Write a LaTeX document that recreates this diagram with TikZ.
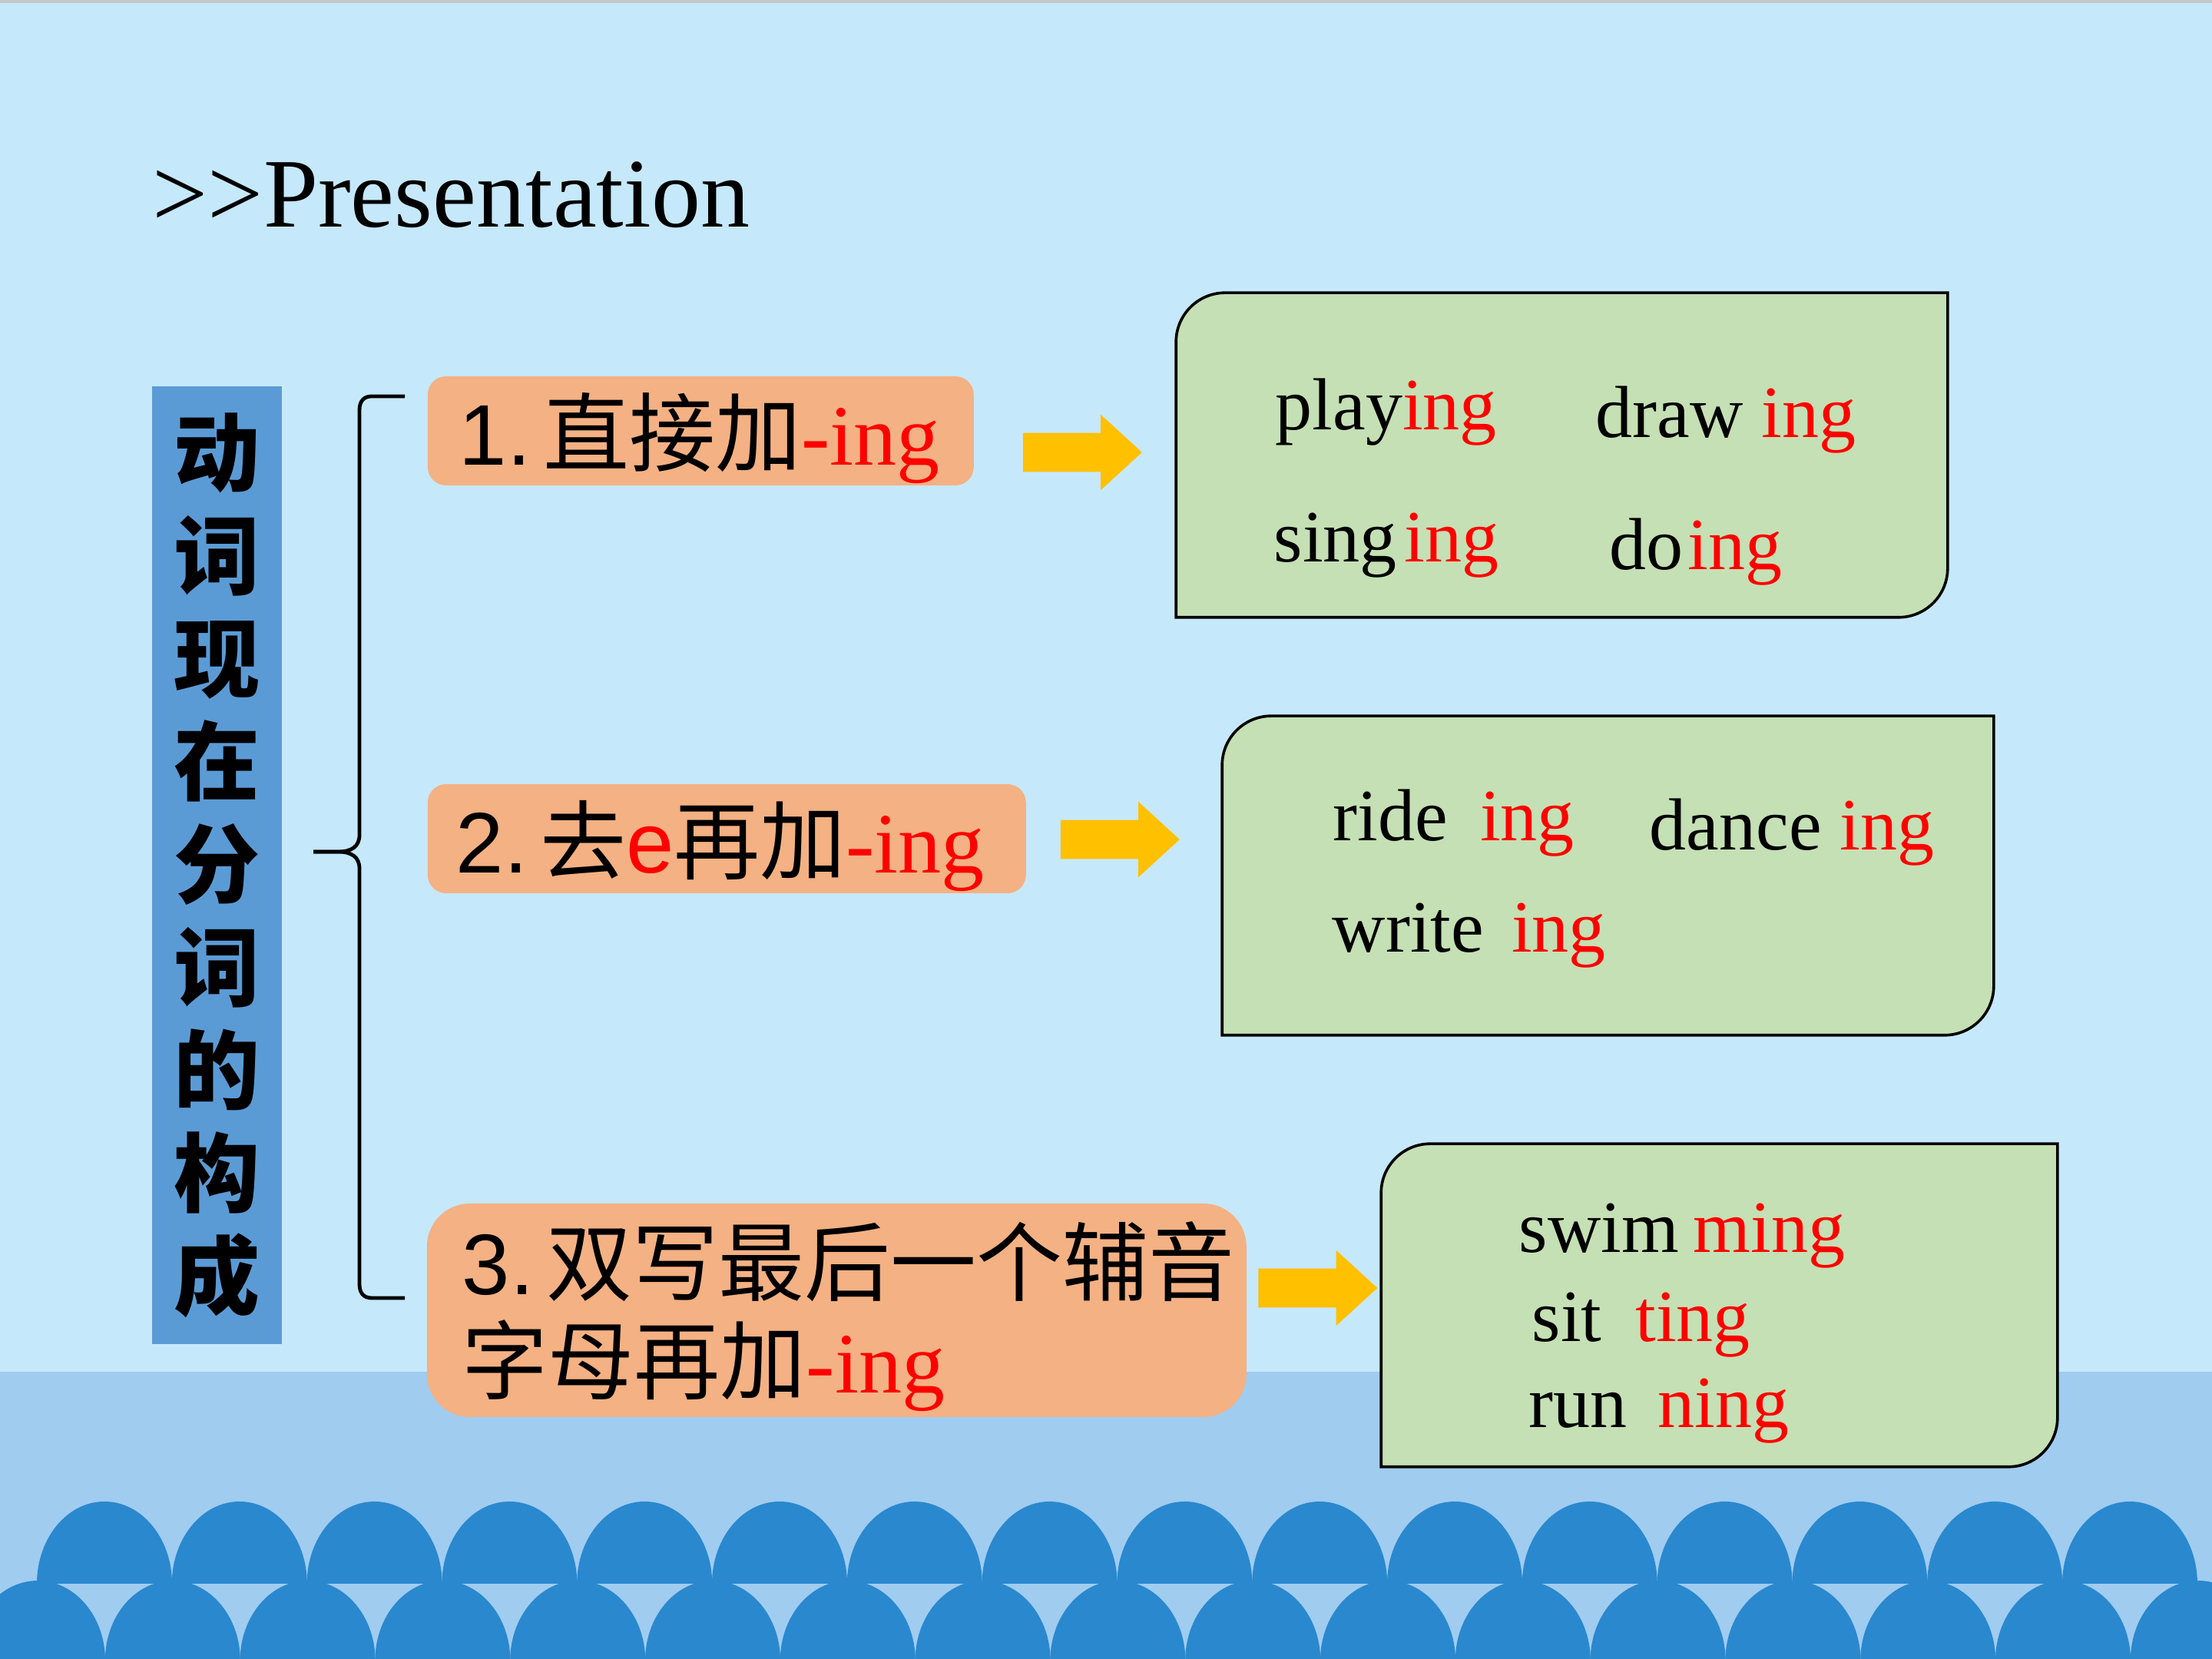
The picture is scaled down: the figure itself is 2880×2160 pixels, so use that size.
\documentclass[tikz,border=0pt]{standalone}
\usepackage{fontspec}
\setmainfont{Liberation Serif}
\newfontfamily\cjk{Noto Sans CJK SC}
\newfontfamily\arial{Liberation Sans}
\usepackage{xcolor}
\usetikzlibrary{shapes.arrows}
\definecolor{sky}{RGB}{198,232,251}
\definecolor{sea}{RGB}{160,204,240}
\definecolor{wavefill}{RGB}{42,136,206}
\definecolor{rulefill}{RGB}{244,177,131}
\definecolor{leaffill}{RGB}{197,224,180}
\definecolor{barfill}{RGB}{91,155,213}
\definecolor{arrowfill}{RGB}{255,192,0}
\newcommand{\ing}[1]{{\rmfamily\color{red}#1}}
\newcommand{\num}[1]{{\arial #1.}\kern4pt}
\tikzset{
    title/.style={anchor=base west, inner sep=0pt, font=\fontsize{32}{38}\selectfont}, % titolo della pagina
    stembar/.style={fill=barfill, inner sep=0pt, minimum width=42.25pt, minimum height=311.75pt,
        align=center, font=\cjk\bfseries\fontsize{28}{33.5}\selectfont},
    brace/.style={draw=black, line width=1.2pt},
    rulebox/.style={fill=rulefill, anchor=base west, inner ysep=0pt, align=left,
        font=\cjk\fontsize{28}{32}\selectfont}, % le tre regole
    leafbox/.style={rectangle, inner sep=0pt}, % riquadro verde (solo posizione)
    leafline/.style={draw=black, line width=0.9pt, fill=leaffill},
    word/.style={anchor=base west, inner sep=0pt, font=\fontsize{24}{28}\selectfont},
    goarrow/.style={single arrow, fill=arrowfill, draw=none, inner xsep=0pt, inner ysep=6.125pt,
        minimum height=38.75pt, single arrow head extend=6pt, single arrow tip angle=85},
    wave/.style={fill=wavefill},
}

\begin{document}
\begin{tikzpicture}[x=0.25pt, y=0.25pt]
    % Sfondo
    \useasboundingbox (0,0) rectangle (2880,2160);
    \fill[sky] (0,0) rectangle (2880,2160);
    \fill[gray!45] (0,2156) rectangle (2880,2160);
    \fill[sea] (0,0) rectangle (2880,374);
    \foreach \i in {0,...,15}
        \fill[wave] ({48+175.8*\i},98) arc[start angle=180, end angle=0, x radius=22pt, y radius=26.75pt];
    \foreach \i in {0,...,16}
        \fill[wave] ({-39+175.8*\i},-2) arc[start angle=180, end angle=0, x radius=22pt, y radius=26pt];

    % Titolo e barra
    \node[title] (title) at (198,1864) {>\kern0pt>Presentation};
    \node[stembar] (bar) at (282.5,1033.5) {动\\词\\现\\在\\分\\词\\的\\构\\成};

    % Graffa
    \draw[brace] (527,1644) -- (484,1644) .. controls (474,1644) and (468,1638) .. (468,1626)
        -- (468,1073) .. controls (468,1058) and (458,1051) .. (440,1051) -- (408,1051);
    \draw[brace] (408,1051) -- (440,1051) .. controls (458,1051) and (468,1044) .. (468,1029)
        -- (468,488) .. controls (468,476) and (474,470) .. (484,470) -- (527,470);

    % Regole
    \node[rulebox, rounded corners=6pt, inner xsep=10.25pt, text width=157.25pt,
        text height=29pt, text depth=6.5pt] (r1) at (556,1554)
        {\num{1}直接加\ing{-ing}};
    \node[rulebox, rounded corners=6pt, inner xsep=9.25pt, text width=176.25pt,
        text height=29pt, text depth=6.5pt] (r2) at (556,1023)
        {\num{2}去{\arial\color{red}e}再加\ing{-ing}};
    \node[rulebox, rounded corners=14pt, inner xsep=11.5pt, text width=243.75pt,
        text height=29.75pt, text depth=39.75pt] (r3) at (555,474)
        {\num{3}双写最后一个辅音\\字母再加\ing{-ing}};

    % Frecce
    \node[goarrow] (a1) at (1395.5,1571) {};
    \node[goarrow] (a2) at (1444.5,1067) {};
    \node[goarrow] (a3) at (1702,483) {};

    % Esempi
    \node[leafbox, minimum width=250.75pt, minimum height=105.25pt] (g1) at (2033.5,1567.5) {};
    \node[leafbox, minimum width=250.75pt, minimum height=103.5pt] (g2) at (2093.5,1020) {};
    \node[leafbox, minimum width=219.75pt, minimum height=104.75pt] (g3) at (2238.5,460.5) {};
    \foreach \g in {g1,g2,g3}
        \draw[leafline] ([yshift=-16pt]\g.north west) -- (\g.south west)
            -- ([xshift=-16pt]\g.south east) arc[start angle=-90, end angle=0, radius=16pt]
            -- (\g.north east) -- ([xshift=16pt]\g.north west)
            arc[start angle=90, end angle=180, radius=16pt] -- cycle;

    \node[word] (w-play) at (1660,1600) {play\ing{ing}};
    \node[word] (w-draw) at (2077,1590) {draw \ing{ing}};
    \node[word] (w-sing) at (1658,1428) {sing\hspace{2.5pt}\ing{ing}};
    \node[word] (w-do) at (2095,1418) {do\hspace{1.5pt}\ing{ing}};
    \node[word] (w-ride) at (1735,1065) {ride\hspace{10.5pt}\ing{ing}};
    \node[word] (w-dance) at (2147,1053) {dance \ing{ing}};
    \node[word] (w-write) at (1734,920) {write\hspace{9pt}\ing{ing}};
    \node[word] (w-swim) at (1977,529) {swim\hspace{4.75pt}\ing{ming}};
    \node[word] (w-sit) at (1994,413) {sit\hspace{11pt}\ing{ting}};
    \node[word] (w-run) at (1990,301) {run\hspace{10pt}\ing{ning}};
\end{tikzpicture}
\end{document}
